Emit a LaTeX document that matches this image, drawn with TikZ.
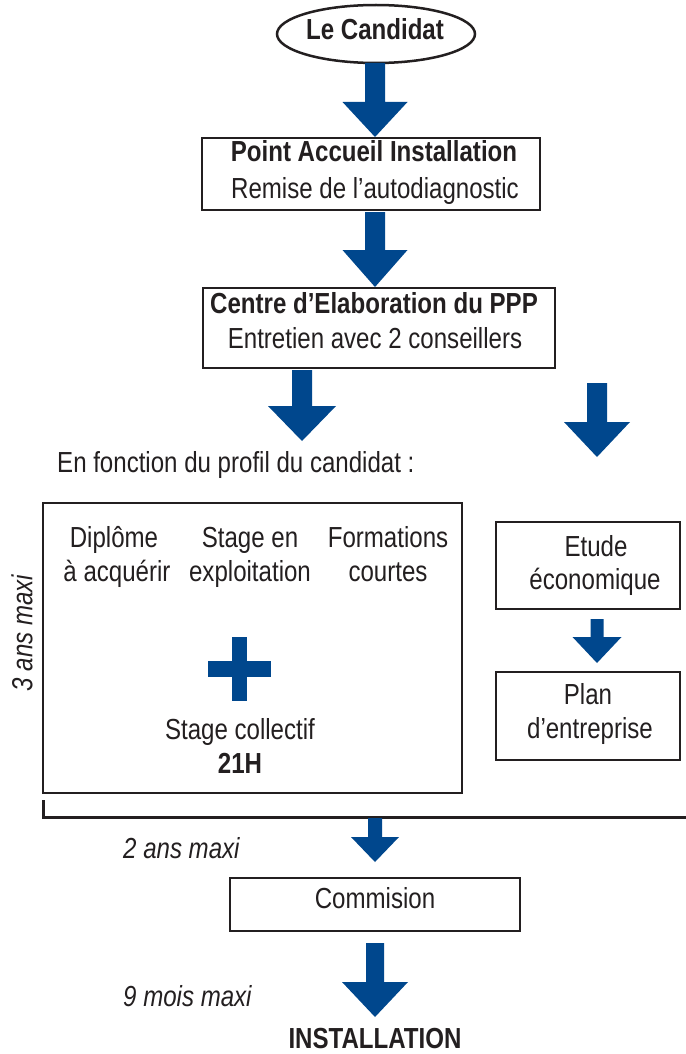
\documentclass[tikz,border=0pt]{standalone}
\usepackage{fontspec}
\setmainfont{Liberation Sans}[FakeStretch=0.83]
\usetikzlibrary{shapes.geometric}
\definecolor{arrowblue}{RGB}{0,71,141}
\definecolor{ink}{RGB}{35,31,32}
% cx, top, head base, tip, shaft half width, head half width
\newcommand\blockarrow[6]{%
  \fill[arrowblue] (#1-#5,#2) -- (#1+#5,#2) -- (#1+#5,#3) -- (#1+#6,#3) -- (#1,#4) -- (#1-#6,#3) -- (#1-#5,#3) -- cycle;}
\begin{document}
\begin{tikzpicture}[x=1pt,y=-1pt,
  lbl/.style={anchor=base, inner sep=0pt, text=ink, font=\fontsize{29}{34}\selectfont},
  blbl/.style={lbl, font=\fontsize{29}{34}\selectfont\bfseries},
  ilbl/.style={lbl, font=\fontsize{29}{34}\selectfont\itshape},
  boxstyle/.style={draw=ink, line width=2pt, inner sep=0pt},
]
\useasboundingbox (0,0) rectangle (685,1054);
\fill[white] (0,0) rectangle (685,1054);

% start ellipse
\node[draw=ink, line width=2.5pt, ellipse, minimum width=198pt, minimum height=58pt, inner sep=0pt] (cand) at (376,34) {};
\node[blbl] (candt) at (375,40) {Le Candidat};

% boxes
\node[boxstyle, minimum width=338pt, minimum height=72pt] (b1) at (371,174) {};
\node[blbl] (b1a) at (374,161) {Point Accueil Installation};
\node[lbl] (b1b) at (375,198) {Remise de l’autodiagnostic};

\node[boxstyle, minimum width=352pt, minimum height=80pt] (b2) at (378.5,328) {};
\node[blbl] (b2a) at (374,313) {Centre d’Elaboration du PPP};
\node[lbl] (b2b) at (375,348) {Entretien avec 2 conseillers};

\node[lbl, anchor=base west] (prof) at (57,472) {En fonction du profil du candidat :};

\node[boxstyle, minimum width=419pt, minimum height=290pt] (big) at (252.5,647.5) {};
\node[lbl] (c1a) at (114,547) {Diplôme};
\node[lbl] (c1b) at (117,581) {à acquérir};
\node[lbl] (c2a) at (250,547) {Stage en};
\node[lbl] (c2b) at (250,581) {exploitation};
\node[lbl] (c3a) at (388,547) {Formations};
\node[lbl] (c3b) at (388,581) {courtes};
\fill[arrowblue] (208,661) rectangle (271,677);
\fill[arrowblue] (232,637) rectangle (247,701);
\node[lbl] (sc) at (240,739) {Stage collectif};
\node[blbl] (h21) at (240,773) {21H};

\node[ilbl, anchor=center, rotate=90] (ans3) at (22,633) {3 ans maxi};

\node[boxstyle, minimum width=184pt, minimum height=87pt] (etude) at (588,565.5) {};
\node[lbl] (et1) at (596,556) {Etude};
\node[lbl] (et2) at (595,589) {économique};
\node[boxstyle, minimum width=184pt, minimum height=88pt] (plan) at (588,716) {};
\node[lbl] (pl1) at (588,704) {Plan};
\node[lbl] (pl2) at (590,738) {d’entreprise};

% bracket
\draw[ink, line width=3pt] (43,800) -- (43,817) -- (686,817);

\node[ilbl, anchor=base west] (ans2) at (123,858) {2 ans maxi};
\node[boxstyle, minimum width=290pt, minimum height=53pt] (comm) at (375,904.5) {};
\node[lbl] (commt) at (375,908) {Commision};
\node[ilbl, anchor=base west] (mois9) at (123,1006) {9 mois maxi};
\node[blbl] (inst) at (375,1048) {INSTALLATION};

% block arrows
\blockarrow{375}{63}{102}{137}{10}{32.5}
\blockarrow{375}{212}{250}{287}{10}{32.5}
\blockarrow{302}{370}{406}{441}{10}{34}
\blockarrow{597}{383}{422}{457}{10}{33}
\blockarrow{597}{619}{637}{663}{6.5}{24.5}
\blockarrow{375}{818}{837}{862}{7}{24}
\blockarrow{375}{943}{982}{1017}{9}{33}
\end{tikzpicture}
\end{document}
